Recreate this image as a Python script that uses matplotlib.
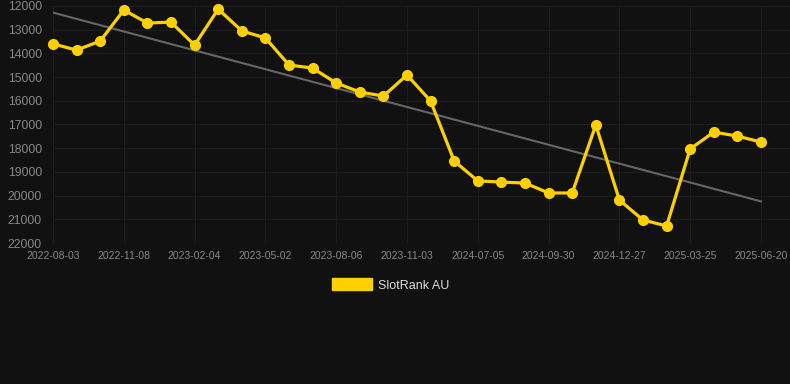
import numpy as np
import matplotlib
matplotlib.use("Agg")
import matplotlib.pyplot as plt
from matplotlib.patches import Patch

tick_labels = ["2022-08-03", "2022-11-08", "2023-02-04", "2023-05-02", "2023-08-06",
               "2023-11-03", "2024-07-05", "2024-09-30", "2024-12-27", "2025-03-25",
               "2025-06-20"]
ranks = [13600, 13860, 13480, 12170, 12720, 12680, 13650, 12130, 13050, 13350,
         14490, 14620, 15250, 15630, 15800, 14910, 16010, 18540, 19380, 19430,
         19470, 19890, 19890, 17020, 20190, 21030, 21280, 18030, 17320, 17490, 17740]
series_name = "SlotRank AU"

plt.rcParams["font.family"] = ["Liberation Sans", "DejaVu Sans"]

bg = "#111111"
W, H = 790, 384
fig = plt.figure(figsize=(W / 100, H / 100), dpi=100, facecolor=bg)
left, right, top, bottom = 53, 790, 6, 243
ax = fig.add_axes([left / W, 1 - bottom / H, (right - left) / W, (bottom - top) / H])
ax.set_facecolor(bg)

x = np.arange(len(ranks))
coef = np.polyfit(x, ranks, 1)
ax.plot(x, np.polyval(coef, x), color="#666666", lw=1.5, zorder=2)
ax.plot(x, ranks, color="#FFD000", lw=2.3, marker="o", markersize=7, zorder=3,
        clip_on=False)

step = (761 - 53) / (len(ranks) - 1)
ax.set_ylim(22000, 12000)
ax.set_yticks(np.arange(12000, 22001, 1000))
ax.set_xlim(0, len(ranks) - 1 + (right - 761) / step)
ax.set_xticks(np.arange(0, len(ranks), 3))
ax.set_xticklabels(tick_labels)

ax.grid(True, color="#1d1d1d", lw=0.8)
for s in ax.spines.values():
    s.set_visible(False)
ax.axhline(22000, color="#2a2a2a", lw=0.8)
ax.tick_params(axis="y", labelsize=8.8, length=0, pad=8, labelcolor="#888888")
ax.tick_params(axis="x", labelsize=7.5, length=0, pad=6, labelcolor="#888888")

fig.legend(handles=[Patch(color="#FFD000")], labels=[series_name],
           loc="center", bbox_to_anchor=(391 / W, 1 - 285 / H), frameon=False,
           handlelength=3.2, handleheight=1.1, labelcolor="#dddddd", fontsize=9,
           handletextpad=0.5)

fig.savefig("out.png", dpi=100, facecolor=bg)
